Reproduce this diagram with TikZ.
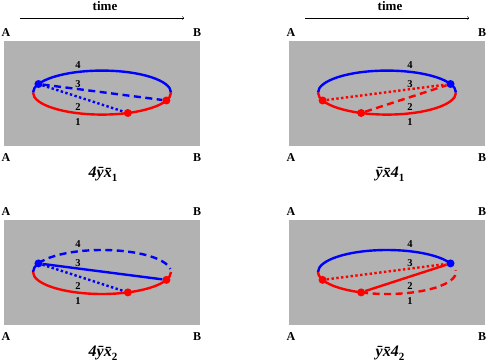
\documentclass[tikz,border=0pt]{standalone}
\usepackage{fontspec}
\setmainfont{Liberation Serif}
\usepackage{tikz}

\newcommand{\sub}[1]{\raisebox{-3.5pt}{\fontsize{11}{11}\selectfont\upshape #1}}

\tikzset{
  panel/.style={fill=black!30},
  endlbl/.style={font=\bfseries\fontsize{12}{12}\selectfont, inner sep=0pt},
  timelbl/.style={font=\bfseries\fontsize{13}{13}\selectfont, inner sep=0pt},
  num/.style={font=\bfseries\fontsize{10.5}{10.5}\selectfont, inner sep=0pt},
  capt/.style={font=\bfseries\itshape\fontsize{16}{16}\selectfont, inner sep=0pt},
  ring/.style={x radius=69pt, y radius=22pt},
  orbit/.style={line width=2.4pt},
  dot/.style={circle, fill, inner sep=0pt, minimum size=8pt},
  dashline/.style={line width=2.4pt, dash pattern=on 7pt off 4.5pt},
  dotline/.style={line width=2.4pt, dash pattern=on 2.4pt off 2.4pt},
}

\begin{document}
\begin{tikzpicture}[x=1pt,y=1pt]
\useasboundingbox (0,0) rectangle (489,362);

% Grey panels with end points
\foreach \cx/\cy/\n in {102/269.4/1,387/269.4/2,102/90/3,387/90/4} {
  \fill[panel] (\cx-98,\cy-53) rectangle (\cx+98,\cy+52);
  \node[endlbl] (ta\n) at (\cx-96,\cy+60) {A};
  \node[endlbl] (tb\n) at (\cx+95,\cy+60) {B};
  \node[endlbl] (ba\n) at (\cx-96,\cy-64.5) {A};
  \node[endlbl] (bb\n) at (\cx+95,\cy-64.5) {B};
}

% Time axis
\foreach \cx/\n in {102/1,387/2} {
  \coordinate (ts\n) at (\cx-82,344);
  \coordinate (te\n) at (\cx+82,344);
  \draw[->] (ts\n) -- (te\n);
  \node[timelbl] (time\n) at (\cx+3,355.5) {time};
}

% Panel 1
\begin{scope}[shift={(102,269.4)}]
\draw[orbit, blue] (0:69 and 22) arc[ring, start angle=0, end angle=180];
\draw[orbit, red] (180:69 and 22) arc[ring, start angle=180, end angle=360];
\node[dot, blue] (pa1) at (157:69 and 22) {};
\node[dot, red] (pb1) at (-21:69 and 22) {};
\node[dot, red] (pc1) at (-68:69 and 22) {};
\draw[dashline, blue] (pa1) -- (pb1);
\draw[dotline, blue] (pa1) -- (pc1);
\node[num] (four1) at (-24,27.6) {4};
\node[num] (three1) at (-24,8.6) {3};
\node[num] (two1) at (-24,-14.4) {2};
\node[num] (one1) at (-24,-29.4) {1};
\node[capt] (cap1) at (1,-81.4) {4\={y}\={x}\sub{1}};
\end{scope}

% Panel 2
\begin{scope}[shift={(387,269.4)}]
\draw[orbit, blue] (0:69 and 22) arc[ring, start angle=0, end angle=180];
\draw[orbit, red] (180:69 and 22) arc[ring, start angle=180, end angle=360];
\node[dot, blue] (pa2) at (23:69 and 22) {};
\node[dot, red] (pb2) at (201:69 and 22) {};
\node[dot, red] (pc2) at (248:69 and 22) {};
\draw[dotline, red] (pb2) -- (pa2);
\draw[dashline, red] (pc2) -- (pa2);
\node[num] (four2) at (23,27.6) {4};
\node[num] (three2) at (23,8.6) {3};
\node[num] (two2) at (23,-14.4) {2};
\node[num] (one2) at (23,-29.4) {1};
\node[capt] (cap2) at (3,-81.4) {\={y}\={x}4\sub{1}};
\end{scope}

% Panel 3
\begin{scope}[shift={(102,90)}]
\draw[orbit, blue] (157:69 and 22) arc[ring, start angle=157, end angle=180];
\draw[orbit, red] (180:69 and 22) arc[ring, start angle=180, end angle=360];
\draw[dashline, blue] (157:69 and 22) arc[ring, start angle=157, end angle=8];
\node[dot, blue] (pa3) at (157:69 and 22) {};
\node[dot, red] (pb3) at (-21:69 and 22) {};
\node[dot, red] (pc3) at (-68:69 and 22) {};
\draw[orbit, blue] (pa3) -- (pb3);
\draw[dotline, blue] (pa3) -- (pc3);
\node[num] (four3) at (-24,27.6) {4};
\node[num] (three3) at (-24,8.6) {3};
\node[num] (two3) at (-24,-14.4) {2};
\node[num] (one3) at (-24,-29.4) {1};
\node[capt] (cap3) at (1,-81.4) {4\={y}\={x}\sub{2}};
\end{scope}

% Panel 4
\begin{scope}[shift={(387,90)}]
\draw[orbit, blue] (180:69 and 22) arc[ring, start angle=180, end angle=23];
\draw[orbit, red] (180:69 and 22) arc[ring, start angle=180, end angle=248];
\draw[dashline, red] (248:69 and 22) arc[ring, start angle=248, end angle=365];
\node[dot, blue] (pa4) at (23:69 and 22) {};
\node[dot, red] (pb4) at (201:69 and 22) {};
\node[dot, red] (pc4) at (248:69 and 22) {};
\draw[dotline, red] (pb4) -- (pa4);
\draw[orbit, red] (pc4) -- (pa4);
\node[num] (four4) at (23,27.6) {4};
\node[num] (three4) at (23,8.6) {3};
\node[num] (two4) at (23,-14.4) {2};
\node[num] (one4) at (23,-29.4) {1};
\node[capt] (cap4) at (3,-81.4) {\={y}\={x}4\sub{2}};
\end{scope}

\end{tikzpicture}
\end{document}
